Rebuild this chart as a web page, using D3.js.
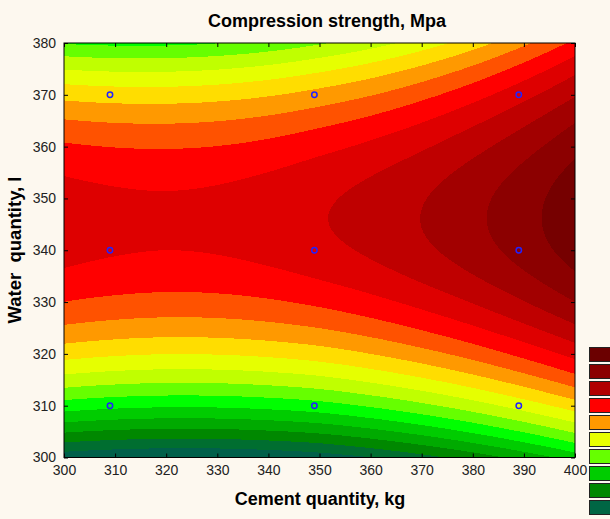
<!DOCTYPE html>
<html>
<head>
<meta charset="utf-8">
<script src="https://cdn.jsdelivr.net/npm/d3@7/dist/d3.min.js"></script>
<style>
  html, body { margin: 0; padding: 0; background: #fdf8ef; }
  svg { display: block; }
  text { font-family: "Liberation Sans", Arial, sans-serif; }
</style>
</head>
<body>
<svg id="chart" width="610" height="519"></svg>
<script>
// Grid of the fitted compression-strength surface (level units).
// Rows follow waterL, columns follow cementKg.
const cementKg = [300, 310, 320, 330, 340, 350, 360, 370, 380, 390, 400];
const waterL   = [300, 310, 320, 330, 340, 350, 360, 370, 380];
const strength = [
  [ 0.37,  0.11, -0.01,  0.01,  0.17,  0.46,  0.98,  1.65,  2.44,  3.38,  4.46],
  [ 5.52,  5.26,  5.14,  5.16,  5.32,  5.61,  6.12,  6.76,  7.54,  8.46,  9.51],
  [ 9.39,  9.14,  9.02,  9.05,  9.21,  9.51, 10.00, 10.63, 11.39, 12.30, 13.34],
  [11.99, 11.75, 11.64, 11.68, 11.87, 12.21, 12.69, 13.31, 14.06, 14.96, 15.99],
  [13.31, 13.09, 13.00, 13.07, 13.30, 13.68, 14.16, 14.78, 15.53, 16.42, 17.45],
  [13.37, 13.16, 13.09, 13.18, 13.43, 13.83, 14.32, 14.93, 15.69, 16.58, 17.62],
  [12.15, 11.97, 11.92, 12.02, 12.28, 12.70, 13.21, 13.86, 14.67, 15.62, 16.71],
  [ 9.67,  9.51,  9.49,  9.62,  9.91, 10.37, 10.95, 11.70, 12.61, 13.69, 14.92],
  [ 5.92,  5.78,  5.79,  5.97,  6.33,  6.88,  7.57,  8.45,  9.53, 10.80, 12.24]
];

// Contour thresholds and the fill of each band (band 0 lies below the first threshold)
const levels = [1, 2, 3, 4, 5, 6, 7, 8, 9, 10, 11, 12, 13, 14, 15, 16, 17];
const bandColors = [
  "#00604a", "#006e30", "#008800", "#00aa00", "#00cc00", "#00ff00",
  "#66ff00", "#c0ff00", "#e6ff00", "#ffdd00", "#ff9900", "#ff5200",
  "#ff0000", "#de0000", "#bf0000", "#a20000", "#8c0000", "#760000"
];
const legendColors = ["#6b0000", "#8b0000", "#b00000", "#ff0000", "#ff9900",
                      "#e8ff00", "#66ff00", "#00cc00", "#008800", "#006644"];

// Experimental design points
const designCement = [309, 349, 389, 309, 349, 389, 309, 349, 389];
const designWater  = [370, 370, 370, 340, 340, 340, 310, 310, 310];

const xTicks = [300, 310, 320, 330, 340, 350, 360, 370, 380, 390, 400];
const yTicks = [300, 310, 320, 330, 340, 350, 360, 370, 380];

const svg = d3.select("#chart");
const plot = { left: 64, right: 575, top: 43, bottom: 457.5 };

const xs = d3.scaleLinear().domain([cementKg[0], cementKg[cementKg.length - 1]]).range([plot.left, plot.right]);
const ys = d3.scaleLinear().domain([waterL[0], waterL[waterL.length - 1]]).range([plot.bottom, plot.top]);

// Smooth (Catmull-Rom) resampling of the grid so the bands render as curves
const nC = cementKg.length, nR = waterL.length;
const gx = cementKg[1] - cementKg[0], gy = waterL[1] - waterL[0];
function node(i, j) {
  if (i < 0) return 3 * node(0, j) - 3 * node(1, j) + node(2, j);
  if (i > nC - 1) return 3 * node(nC - 1, j) - 3 * node(nC - 2, j) + node(nC - 3, j);
  if (j < 0) return 3 * node(i, 0) - 3 * node(i, 1) + node(i, 2);
  if (j > nR - 1) return 3 * node(i, nR - 1) - 3 * node(i, nR - 2) + node(i, nR - 3);
  return strength[j][i];
}
function cr(p0, p1, p2, p3, s) {
  return p1 + 0.5 * s * (p2 - p0 + s * (2 * p0 - 5 * p1 + 4 * p2 - p3 + s * (3 * (p1 - p2) + p3 - p0)));
}
function surface(xv, yv) {
  const u = (xv - cementKg[0]) / gx, v = (yv - waterL[0]) / gy;
  const i = Math.max(0, Math.min(Math.floor(u), nC - 2));
  const j = Math.max(0, Math.min(Math.floor(v), nR - 2));
  const s = u - i, t = v - j;
  const row = k => cr(node(i - 1, j + k), node(i, j + k), node(i + 1, j + k), node(i + 2, j + k), s);
  return cr(row(-1), row(0), row(1), row(2), t);
}

const step = 0.4;
const fx = d3.range(cementKg[0], cementKg[nC - 1] + step / 2, step);
const fy = d3.range(waterL[0], waterL[nR - 1] + step / 2, step);
const values = new Array(fx.length * fy.length);
fy.forEach((yv, j) => fx.forEach((xv, i) => { values[j * fx.length + i] = surface(xv, yv); }));

const contours = d3.contours().size([fx.length, fy.length]).thresholds(levels)(values);
const toPlot = d3.geoTransform({
  point(cx, cy) {
    this.stream.point(xs(fx[0] + (cx - 0.5) * step), ys(fy[0] + (cy - 0.5) * step));
  }
});
const path = d3.geoPath(toPlot);

svg.append("defs").append("clipPath").attr("id", "plotClip")
  .append("rect")
  .attr("x", plot.left).attr("y", plot.top)
  .attr("width", plot.right - plot.left).attr("height", plot.bottom - plot.top);

const bands = svg.append("g").attr("clip-path", "url(#plotClip)");
bands.append("rect")
  .attr("x", plot.left).attr("y", plot.top)
  .attr("width", plot.right - plot.left).attr("height", plot.bottom - plot.top)
  .attr("fill", bandColors[0]);
bands.selectAll("path.band").data(contours).join("path")
  .attr("class", "band")
  .attr("d", path)
  .attr("fill", (d, k) => bandColors[k + 1])
  .attr("shape-rendering", "crispEdges");

// Design points
svg.append("g").selectAll("circle").data(designCement).join("circle")
  .attr("cx", (d, i) => xs(d))
  .attr("cy", (d, i) => ys(designWater[i]))
  .attr("r", 2.7)
  .attr("fill", "none")
  .attr("stroke", "#2222ff")
  .attr("stroke-width", 1.5);

// Axes with inward ticks on all four sides
function styleAxis(g) {
  g.select(".domain").remove();
  g.selectAll(".tick line").attr("stroke", "#000");
  g.selectAll(".tick text").attr("fill", "#222").style("font-size", "14px")
    .style("font-family", "'Liberation Sans', Arial, sans-serif");
}
svg.append("g").attr("transform", `translate(0,${plot.bottom})`)
  .call(d3.axisBottom(xs).tickValues(xTicks).tickSizeInner(-4).tickSizeOuter(0).tickPadding(8))
  .call(styleAxis);
svg.append("g").attr("transform", `translate(${plot.left},0)`)
  .call(d3.axisLeft(ys).tickValues(yTicks).tickSizeInner(-4).tickSizeOuter(0).tickPadding(8))
  .call(styleAxis);
svg.append("g").attr("transform", `translate(0,${plot.top})`)
  .call(d3.axisTop(xs).tickValues(xTicks).tickSizeInner(-4).tickSizeOuter(0).tickFormat(""))
  .call(styleAxis);
svg.append("g").attr("transform", `translate(${plot.right},0)`)
  .call(d3.axisRight(ys).tickValues(yTicks).tickSizeInner(-4).tickSizeOuter(0).tickFormat(""))
  .call(styleAxis);

svg.append("rect")
  .attr("x", plot.left).attr("y", plot.top)
  .attr("width", plot.right - plot.left).attr("height", plot.bottom - plot.top)
  .attr("fill", "none").attr("stroke", "#000").attr("stroke-width", 1);

// Titles
svg.append("text")
  .attr("x", 327).attr("y", 27)
  .attr("text-anchor", "middle")
  .style("font-size", "18px").style("font-weight", "bold")
  .text("Compression strength, Mpa");
svg.append("text")
  .attr("x", 320).attr("y", 505)
  .attr("text-anchor", "middle")
  .style("font-size", "18px").style("font-weight", "bold")
  .text("Cement quantity, kg");
svg.append("text")
  .attr("transform", "translate(21,250) rotate(-90)")
  .attr("text-anchor", "middle")
  .style("font-size", "18.5px").style("font-weight", "bold")
  .style("white-space", "pre")
  .text("Water  quantity, l");

// Legend swatches
svg.append("g").selectAll("rect").data(legendColors).join("rect")
  .attr("x", 589.5)
  .attr("y", (d, i) => 347.5 + i * 17)
  .attr("width", 30).attr("height", 14)
  .attr("fill", d => d)
  .attr("stroke", "#222").attr("stroke-width", 1);
</script>
</body>
</html>
